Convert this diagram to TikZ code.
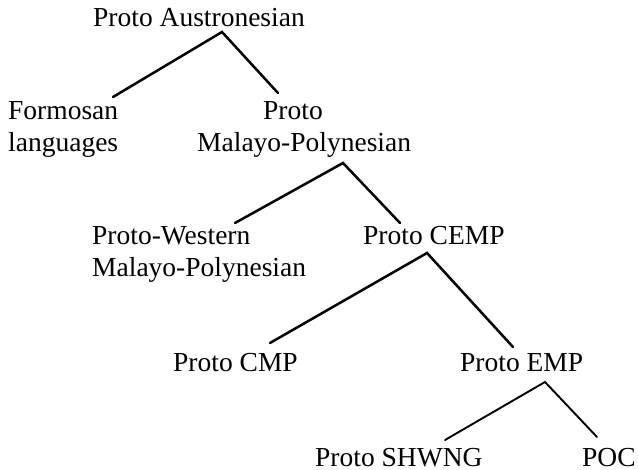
\documentclass[tikz,border=0pt]{standalone}
\usepackage{fontspec}
\setmainfont{Liberation Serif}
\usetikzlibrary{calc}
\tikzset{
  lbl/.style={anchor=base west, inner sep=0pt, font=\fontsize{27.5}{32}\selectfont},
  branch/.style={line width=2.5pt, line cap=round, line join=miter},
  twig/.style={line width=1.9pt, line cap=round, line join=miter}
}
\begin{document}
\begin{tikzpicture}[x=1pt,y=-1pt]
\useasboundingbox (0,0) rectangle (638,470);
\node[lbl] (root) at (93,27) {Proto Austronesian};
\node[lbl] (form) at (8,120) {\begin{tabular}[t]{@{}l@{}}Formosan\\languages\end{tabular}};
\node[lbl] (pmp) at (197,120) {\begin{tabular}[t]{@{}l@{}}\hspace*{66pt}Proto\\Malayo-Polynesian\end{tabular}};
\node[lbl] (pwmp) at (92,245) {\begin{tabular}[t]{@{}l@{}}Proto-Western\\Malayo-Polynesian\end{tabular}};
\node[lbl] (cemp) at (363,245) {Proto CEMP};
\node[lbl] (cmp) at (173,372) {Proto CMP};
\node[lbl] (emp) at (460,372) {Proto EMP};
\node[lbl] (shwng) at (315,467) {Proto SHWNG};
\node[lbl] (poc) at (582,467) {POC};

\draw[branch] ($(form.base west)+(105,-23)$) -- ($(root.base west)+(129,5)$) -- ($(pmp.base west)+(81,-27)$);
\draw[branch] ($(pwmp.base west)+(143,-22)$) -- ($(pmp.base west)+(146,43)$) -- ($(cemp.base west)+(37,-22)$);
\draw[branch] ($(cmp.base west)+(97,-29)$) -- ($(cemp.base west)+(64,8)$) -- ($(emp.base west)+(53,-25)$);
\draw[twig] ($(shwng.base west)+(130,-27)$) -- ($(emp.base west)+(85,10)$) -- ($(poc.base west)+(15,-30)$);
\end{tikzpicture}
\end{document}
